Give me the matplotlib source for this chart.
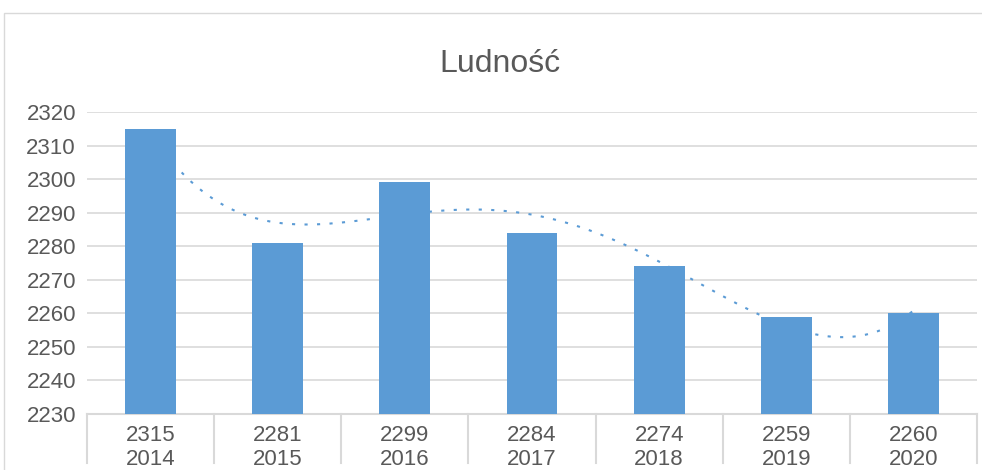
import numpy as np
import matplotlib.pyplot as plt
from matplotlib.patches import Rectangle

years = [2014, 2015, 2016, 2017, 2018, 2019, 2020]
ludnosc = [2315, 2281, 2299, 2284, 2274, 2259, 2260]
trend_degree = 4

bar_color = '#5b9bd5'
text_color = '#595959'
grid_color = '#d9d9d9'

plt.rcParams['font.family'] = ['Liberation Sans', 'DejaVu Sans']

fig = plt.figure(figsize=(9.82, 4.7), dpi=100)
W, H = 982, 470
ax = fig.add_axes([87 / W, (H - 414) / H, (977 - 87) / W, (414 - 112) / H])

# ramka obszaru wykresu
fig.patches.append(Rectangle((4 / W, -0.1), 1.2, (H - 13) / H + 0.1, transform=fig.transFigure,
                             fill=False, edgecolor='#d9d9d9', lw=1))

idx = np.arange(len(years))
ax.bar(idx, ludnosc, 0.4, color=bar_color, zorder=3)

# linia trendu (wielomianowa)
coef = np.polyfit(idx, ludnosc, trend_degree)
xs = np.linspace(0, len(years) - 1, 400)
ax.plot(xs, np.polyval(coef, xs), color=bar_color, lw=1.5, ls=(0, (1.5, 4.5)), zorder=2)

ax.set_xlim(-0.5, len(years) - 0.5)
ax.set_ylim(2230, 2320)
ax.set_yticks(range(2230, 2321, 10))
ax.yaxis.grid(True, color=grid_color, lw=1.2, zorder=0)
ax.set_axisbelow(True)
for s in ['top', 'right', 'left']:
    ax.spines[s].set_visible(False)
ax.spines['bottom'].set_color(grid_color)
ax.spines['bottom'].set_linewidth(1.5)

ax.tick_params(axis='y', length=0, pad=8, labelsize=16, labelcolor=text_color)
ax.tick_params(axis='x', length=0, pad=8, labelsize=16, labelcolor=text_color)
ax.set_xticks(idx)
ax.set_xticklabels([f'{v}\n{y}' for v, y in zip(ludnosc, years)], linespacing=1.2)

# pionowe separatory kategorii
trans = ax.get_xaxis_transform()
for b in np.arange(-0.5, len(years), 1.0):
    ax.plot([b, b], [0, -(463 - 414) / (414 - 112)], transform=trans, color=grid_color,
            lw=1.5, clip_on=False)

fig.text(500 / W, 1 - 72 / H, 'Ludność', ha='center', va='baseline', fontsize=23, color=text_color)

fig.savefig('out.png', dpi=100)
